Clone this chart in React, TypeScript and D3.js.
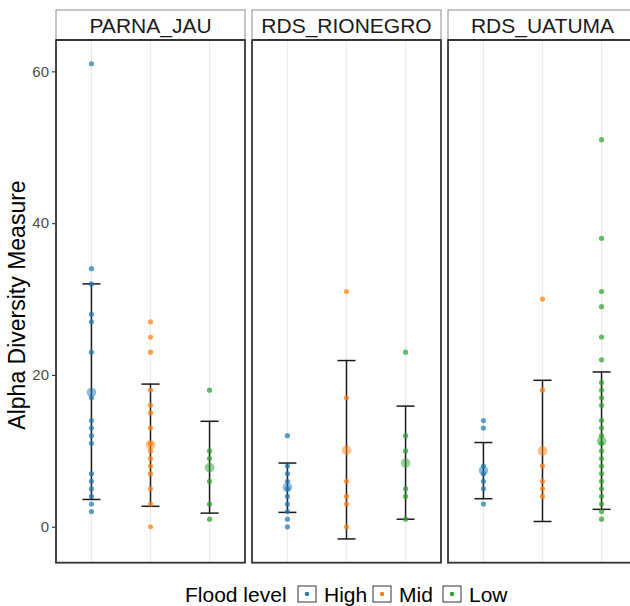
import React, { useRef, useEffect } from 'react'
import * as d3 from 'd3'

const sites = ['PARNA_JAU', 'RDS_RIONEGRO', 'RDS_UATUMA']
const floodLevels = ['High', 'Mid', 'Low']
const levelColors = ['#1f77b4', '#ff7f0e', '#2ca02c']
const yTicks = [0, 20, 40, 60]

// observed alpha diversity per sample
const parnaJauHigh = [61, 34, 32, 28, 27, 23, 17, 14, 13, 12, 11, 7, 6, 5, 4, 3, 2]
const parnaJauMid = [27, 25, 23, 18, 16, 15, 13, 11, 10, 9, 8, 7, 5, 3, 0]
const parnaJauLow = [18, 10, 9, 6, 3, 1]
const rioNegroHigh = [12, 8, 7, 6, 5, 4, 3, 2, 1, 0]
const rioNegroMid = [31, 17, 6, 4, 3, 0]
const rioNegroLow = [23, 12, 10, 5, 4, 1]
const uatumaHigh = [14, 13, 8, 7, 6, 5, 3]
const uatumaMid = [30, 18, 8, 6, 5, 4]
const uatumaLow = [51, 38, 31, 29, 25, 22, 19, 18, 17, 16, 14, 13, 12, 11, 10, 9, 8, 7, 6, 5, 4, 3, 2, 1]

// mean and mean +/- sd per site (High, Mid, Low)
const meanValues = [[17.7, 10.8, 7.8], [5.2, 10.1, 8.4], [7.4, 10.0, 11.3]]
const errLower = [[3.6, 2.7, 1.8], [1.9, -1.6, 1.0], [3.7, 0.7, 2.3]]
const errUpper = [[32.0, 18.8, 13.9], [8.4, 21.9, 15.9], [11.1, 19.3, 20.4]]

const pointSets = [
  [parnaJauHigh, parnaJauMid, parnaJauLow],
  [rioNegroHigh, rioNegroMid, rioNegroLow],
  [uatumaHigh, uatumaMid, uatumaLow]
]

const font = 'Liberation Sans, Arial, Helvetica, sans-serif'

const App = () => {
  const svgRef = useRef(null)
  const width = 630
  const height = 606
  const panelTop = 40
  const panelBottom = 562.7
  const stripTop = 10

  useEffect(() => {
    const svg = d3.select(svgRef.current)
    svg.selectAll('*').remove()

    const allVals = [
      ...pointSets.flat(2),
      ...errLower.flat(),
      ...errUpper.flat()
    ]
    const [lo, hi] = d3.extent(allVals)
    const pad = (hi - lo) * 0.05
    const yScale = d3
      .scaleLinear()
      .domain([lo - pad, hi + pad])
      .range([panelBottom, panelTop])

    const facet = d3
      .scaleBand()
      .domain(sites)
      .range([56, 637])
      .paddingInner(0.0357)

    sites.forEach((site, si) => {
      const x0 = facet(site)
      const bw = facet.bandwidth()
      const xScale = d3
        .scalePoint()
        .domain(floodLevels)
        .range([x0, x0 + bw])
        .padding(0.6)

      const g = svg.append('g')

      g.append('rect')
        .attr('x', x0)
        .attr('y', panelTop)
        .attr('width', bw)
        .attr('height', panelBottom - panelTop)
        .attr('fill', 'white')

      // vertical grid
      g.selectAll('.grid')
        .data(floodLevels)
        .enter()
        .append('line')
        .attr('x1', d => xScale(d))
        .attr('x2', d => xScale(d))
        .attr('y1', panelTop)
        .attr('y2', panelBottom)
        .attr('stroke', '#ebebeb')
        .attr('stroke-width', 1.1)

      // error bars
      floodLevels.forEach((lvl, li) => {
        const cx = xScale(lvl)
        const yl = yScale(errLower[si][li])
        const yh = yScale(errUpper[si][li])
        const eb = g.append('g').attr('stroke', '#1a1a1a').attr('stroke-width', 1.5)
        eb.append('line').attr('x1', cx).attr('x2', cx).attr('y1', yl).attr('y2', yh)
        eb.append('line').attr('x1', cx - 9).attr('x2', cx + 9).attr('y1', yl).attr('y2', yl)
        eb.append('line').attr('x1', cx - 9).attr('x2', cx + 9).attr('y1', yh).attr('y2', yh)
      })

      // points
      floodLevels.forEach((lvl, li) => {
        g.selectAll(null)
          .data(pointSets[si][li])
          .enter()
          .append('circle')
          .attr('cx', xScale(lvl))
          .attr('cy', d => yScale(d))
          .attr('r', 2.6)
          .attr('fill', levelColors[li])
          .attr('fill-opacity', 0.72)
      })

      // means
      g.selectAll('.mean')
        .data(floodLevels)
        .enter()
        .append('circle')
        .attr('cx', d => xScale(d))
        .attr('cy', (d, i) => yScale(meanValues[si][i]))
        .attr('r', 4.8)
        .attr('fill', (d, i) => levelColors[i])
        .attr('fill-opacity', 0.5)

      // panel border
      g.append('rect')
        .attr('x', x0)
        .attr('y', panelTop)
        .attr('width', bw)
        .attr('height', panelBottom - panelTop)
        .attr('fill', 'none')
        .attr('stroke', '#333333')
        .attr('stroke-width', 1.8)

      // strip
      g.append('rect')
        .attr('x', x0)
        .attr('y', stripTop)
        .attr('width', bw)
        .attr('height', panelTop - stripTop)
        .attr('fill', 'white')
        .attr('stroke', '#8c8c8c')
        .attr('stroke-width', 1)
      g.append('line')
        .attr('x1', x0)
        .attr('x2', x0 + bw)
        .attr('y1', panelTop)
        .attr('y2', panelTop)
        .attr('stroke', '#333333')
        .attr('stroke-width', 1.8)
      g.append('text')
        .attr('x', x0 + bw / 2)
        .attr('y', (stripTop + panelTop) / 2)
        .attr('dy', '0.36em')
        .attr('text-anchor', 'middle')
        .attr('font-family', font)
        .attr('font-size', 21)
        .attr('fill', '#1a1a1a')
        .text(site)
    })

    // y axis
    const yAxis = d3
      .axisLeft(yScale)
      .tickValues(yTicks)
      .tickSize(4)
      .tickPadding(3)
    const yAxisGroup = svg
      .append('g')
      .attr('transform', `translate(${facet(sites[0])},0)`)
      .call(yAxis)
    yAxisGroup.select('.domain').remove()
    yAxisGroup.selectAll('line').attr('stroke', '#333333').attr('stroke-width', 1.1)
    yAxisGroup
      .selectAll('text')
      .attr('fill', '#4d4d4d')
      .attr('font-family', font)
      .attr('font-size', 15)

    svg.append('text')
      .attr('transform', `translate(17,305) rotate(-90)`)
      .attr('dy', '0.36em')
      .attr('text-anchor', 'middle')
      .attr('font-family', font)
      .attr('font-size', 23)
      .attr('fill', '#000')
      .text('Alpha Diversity Measure')

    // legend
    const legend = svg.append('g').attr('font-family', font).attr('font-size', 21)
    legend.append('text')
      .attr('x', 185)
      .attr('y', 594)
      .attr('dy', '0.36em')
      .text('Flood level')
    const keyX = [298, 373, 443]
    floodLevels.forEach((lvl, i) => {
      legend.append('rect')
        .attr('x', keyX[i])
        .attr('y', 586)
        .attr('width', 18)
        .attr('height', 16)
        .attr('fill', 'white')
        .attr('stroke', '#333333')
        .attr('stroke-width', 1)
      legend.append('circle')
        .attr('cx', keyX[i] + 9)
        .attr('cy', 594)
        .attr('r', 2.2)
        .attr('fill', levelColors[i])
      legend.append('text')
        .attr('x', keyX[i] + 26)
        .attr('y', 594)
        .attr('dy', '0.36em')
        .text(lvl)
    })
  }, [])

  return (
    <svg
      ref={svgRef}
      width={width}
      height={height}
      style={{ position: 'absolute', left: 0, top: 0, background: 'white' }}
    />
  )
}

export default App
